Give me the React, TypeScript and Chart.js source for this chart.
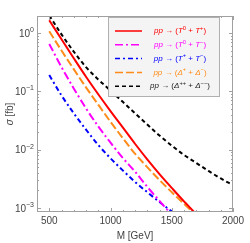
import { useEffect, useRef } from "react";
import { Chart, registerables } from "chart.js";
Chart.register(...registerables);

const massGeV = [500, 600, 700, 800, 900, 1000, 1100, 1200, 1300, 1400, 1500, 1600, 1700, 1800, 1900, 2000];
const sigmaT0Tplus = [1.66, 0.78, 0.37, 0.178, 0.089, 0.0457, 0.024, 0.0126, 0.0068, 0.0038, 0.0022, 0.00129, 0.00078, null, null, null];
const sigmaT0Tminus = [0.65, 0.26, 0.112, 0.051, 0.025, 0.0132, 0.0072, 0.0042, 0.0023, 0.00132, 0.00076, null, null, null, null, null];
const sigmaTplusTminus = [0.19, 0.085, 0.042, 0.022, 0.012, 0.0071, 0.0044, 0.0028, 0.00186, 0.00126, 0.00087, 0.0006, null, null, null, null];
const sigmaDplusDminus = [1.07, 0.5, 0.24, 0.117, 0.059, 0.03, 0.0158, 0.0085, 0.005, 0.003, 0.00186, 0.00117, 0.00074, null, null, null];
const sigmaDppDmm = [2.0, 0.95, 0.48, 0.26, 0.16, 0.103, 0.066, 0.042, 0.027, 0.0174, 0.0117, 0.0081, 0.0059, 0.0043, 0.0032, 0.00245];

const xTicks = [500, 1000, 1500, 2000];
const yTickExps = [0, -1, -2, -3];

type Seg = { t: string; it?: boolean; sup?: boolean };
const legendLabels: Seg[][] = [
  [{ t: "pp", it: true }, { t: " → (" }, { t: "T", it: true }, { t: "0", sup: true }, { t: " + " }, { t: "T", it: true }, { t: "+", sup: true }, { t: ")" }],
  [{ t: "pp", it: true }, { t: " → (" }, { t: "T", it: true }, { t: "0", sup: true }, { t: " + " }, { t: "T", it: true }, { t: "−", sup: true }, { t: ")" }],
  [{ t: "pp", it: true }, { t: " → (" }, { t: "T", it: true }, { t: "+", sup: true }, { t: " + " }, { t: "T", it: true }, { t: "−", sup: true }, { t: ")" }],
  [{ t: "pp", it: true }, { t: " → (" }, { t: "Δ", it: true }, { t: "+", sup: true }, { t: " + " }, { t: "Δ", it: true }, { t: "−", sup: true }, { t: ")" }],
  [{ t: "pp", it: true }, { t: " → (" }, { t: "Δ", it: true }, { t: "++", sup: true }, { t: " + " }, { t: "Δ", it: true }, { t: "−−", sup: true }, { t: ")" }],
];

const FONT = '"Liberation Sans", Arial, sans-serif';

function mk(ys: (number | null)[]) {
  return massGeV.map((m, i) => ({ x: m, y: ys[i] }));
}

function drawRich(ctx: CanvasRenderingContext2D, segs: Seg[], cx: number, cy: number, size: number, color: string) {
  const fontFor = (s: Seg) => `${s.it ? "italic " : ""}${s.sup ? size * 0.72 : size}px ${FONT}`;
  let w = 0;
  for (const s of segs) { ctx.font = fontFor(s); w += ctx.measureText(s.t).width; }
  let x = cx - w / 2;
  ctx.fillStyle = color;
  ctx.textAlign = "left";
  ctx.textBaseline = "middle";
  for (const s of segs) {
    ctx.font = fontFor(s);
    ctx.fillText(s.t, x, s.sup ? cy - size * 0.35 : cy);
    x += ctx.measureText(s.t).width;
  }
}

export default function App() {
  const ref = useRef<HTMLCanvasElement>(null);
  useEffect(() => {
    if (!ref.current) return;
    const series = [
      { label: "T0T+", data: sigmaT0Tplus, color: "#ff0000", dash: [] as number[] },
      { label: "T0T-", data: sigmaT0Tminus, color: "#ff00ff", dash: [8, 3, 2, 3] },
      { label: "T+T-", data: sigmaTplusTminus, color: "#0000ff", dash: [5, 3, 2, 3] },
      { label: "D+D-", data: sigmaDplusDminus, color: "#ff8c1a", dash: [8, 3] },
      { label: "D++D--", data: sigmaDppDmm, color: "#000000", dash: [4, 3] },
    ];
    const overlay = {
      id: "overlay",
      afterDraw(chart: any) {
        const ctx: CanvasRenderingContext2D = chart.ctx;
        const a = chart.chartArea;
        const xs = chart.scales.x;
        const ys = chart.scales.y;
        ctx.save();
        // frame
        ctx.strokeStyle = "#a0a0a0";
        ctx.lineWidth = 1;
        ctx.strokeRect(a.left + 0.5, a.top + 0.5, a.right - a.left - 1, a.bottom - a.top - 1);
        // x ticks
        ctx.strokeStyle = "#a0a0a0";
        for (let m = 400; m <= 2000; m += 100) {
          const px = Math.round(xs.getPixelForValue(m)) + 0.5;
          const len = m % 500 === 0 ? 4 : 2;
          ctx.beginPath();
          ctx.moveTo(px, a.bottom); ctx.lineTo(px, a.bottom - len);
          ctx.moveTo(px, a.top); ctx.lineTo(px, a.top + len);
          ctx.stroke();
        }
        // y ticks
        for (let e = -4; e <= 0; e++) {
          for (let k = 1; k <= 9; k++) {
            const v = k * Math.pow(10, e);
            if (v < ys.min || v > ys.max) continue;
            const py = Math.round(ys.getPixelForValue(v)) + 0.5;
            const len = k === 1 ? 4 : 2;
            ctx.beginPath();
            ctx.moveTo(a.left, py); ctx.lineTo(a.left + len, py);
            ctx.moveTo(a.right, py); ctx.lineTo(a.right - len, py);
            ctx.stroke();
          }
        }
        // x labels
        ctx.fillStyle = "#444";
        ctx.font = `10px ${FONT}`;
        ctx.textAlign = "center";
        ctx.textBaseline = "middle";
        for (const t of xTicks) ctx.fillText(String(t), xs.getPixelForValue(t), a.bottom + 9);
        // y labels
        for (const e of yTickExps) {
          const py = ys.getPixelForValue(Math.pow(10, e));
          const ex = e === 0 ? "0" : "−" + Math.abs(e);
          ctx.font = `7px ${FONT}`;
          const we = ctx.measureText(ex).width;
          ctx.font = `10px ${FONT}`;
          const wb = ctx.measureText("10").width;
          const x0 = a.left - 3 - we - wb;
          ctx.textAlign = "left";
          ctx.fillText("10", x0, py + 1);
          ctx.font = `7px ${FONT}`;
          ctx.fillText(ex, x0 + wb, py - 3);
        }
        // titles
        ctx.fillStyle = "#444";
        ctx.font = `10px ${FONT}`;
        ctx.textAlign = "center";
        ctx.fillText("M [GeV]", (a.left + a.right) / 2, a.bottom + 24);
        ctx.save();
        ctx.translate(10, (a.top + a.bottom) / 2);
        ctx.rotate(-Math.PI / 2);
        drawRich(ctx, [{ t: "σ", it: true }, { t: " [fb]" }], 0, 0, 10, "#444");
        ctx.restore();
        // legend
        const lx = 108, ly = 17, lw = 112, lh = 80;
        ctx.fillStyle = "#f4f4f4";
        ctx.fillRect(lx, ly, lw, lh);
        ctx.strokeStyle = "#b0b0b0";
        ctx.strokeRect(lx + 0.5, ly + 0.5, lw - 1, lh - 1);
        series.forEach((s, i) => {
          const ry = 31 + i * 13.8;
          ctx.strokeStyle = s.color;
          ctx.lineWidth = 1.5;
          ctx.setLineDash(s.dash);
          ctx.beginPath();
          ctx.moveTo(115, ry); ctx.lineTo(142, ry);
          ctx.stroke();
          ctx.setLineDash([]);
          drawRich(ctx, legendLabels[i], 180, ry, 8, i === 4 ? "#222" : s.color);
        });
        ctx.restore();
      },
    };
    const chart = new Chart(ref.current, {
      type: "line",
      data: {
        datasets: series.map((s) => ({
          label: s.label,
          data: mk(s.data) as any,
          borderColor: s.color,
          backgroundColor: s.color,
          borderWidth: 2,
          borderDash: s.dash,
          pointRadius: 0,
          cubicInterpolationMode: "monotone" as const,
          fill: false,
        })),
      },
      options: {
        responsive: false,
        animation: false,
        events: [],
        layout: { padding: { top: 16, right: 17, left: 0, bottom: 0 } },
        plugins: { legend: { display: false }, tooltip: { enabled: false } },
        scales: {
          x: {
            type: "linear",
            min: 400,
            max: 2000,
            grid: { display: false },
            border: { display: false },
            ticks: { display: false },
            afterFit: (s: any) => { s.height = 31; },
          },
          y: {
            type: "logarithmic",
            min: 0.00085,
            max: 1.96,
            grid: { display: false },
            border: { display: false },
            ticks: { display: false },
            afterFit: (s: any) => { s.width = 37; },
          },
        },
      },
      plugins: [overlay],
    });
    return () => chart.destroy();
  }, []);
  return (
    <div style={{ position: "absolute", left: 0, top: 0, width: 250, height: 243, background: "#fff" }}>
      <canvas ref={ref} width={250} height={243} />
    </div>
  );
}
